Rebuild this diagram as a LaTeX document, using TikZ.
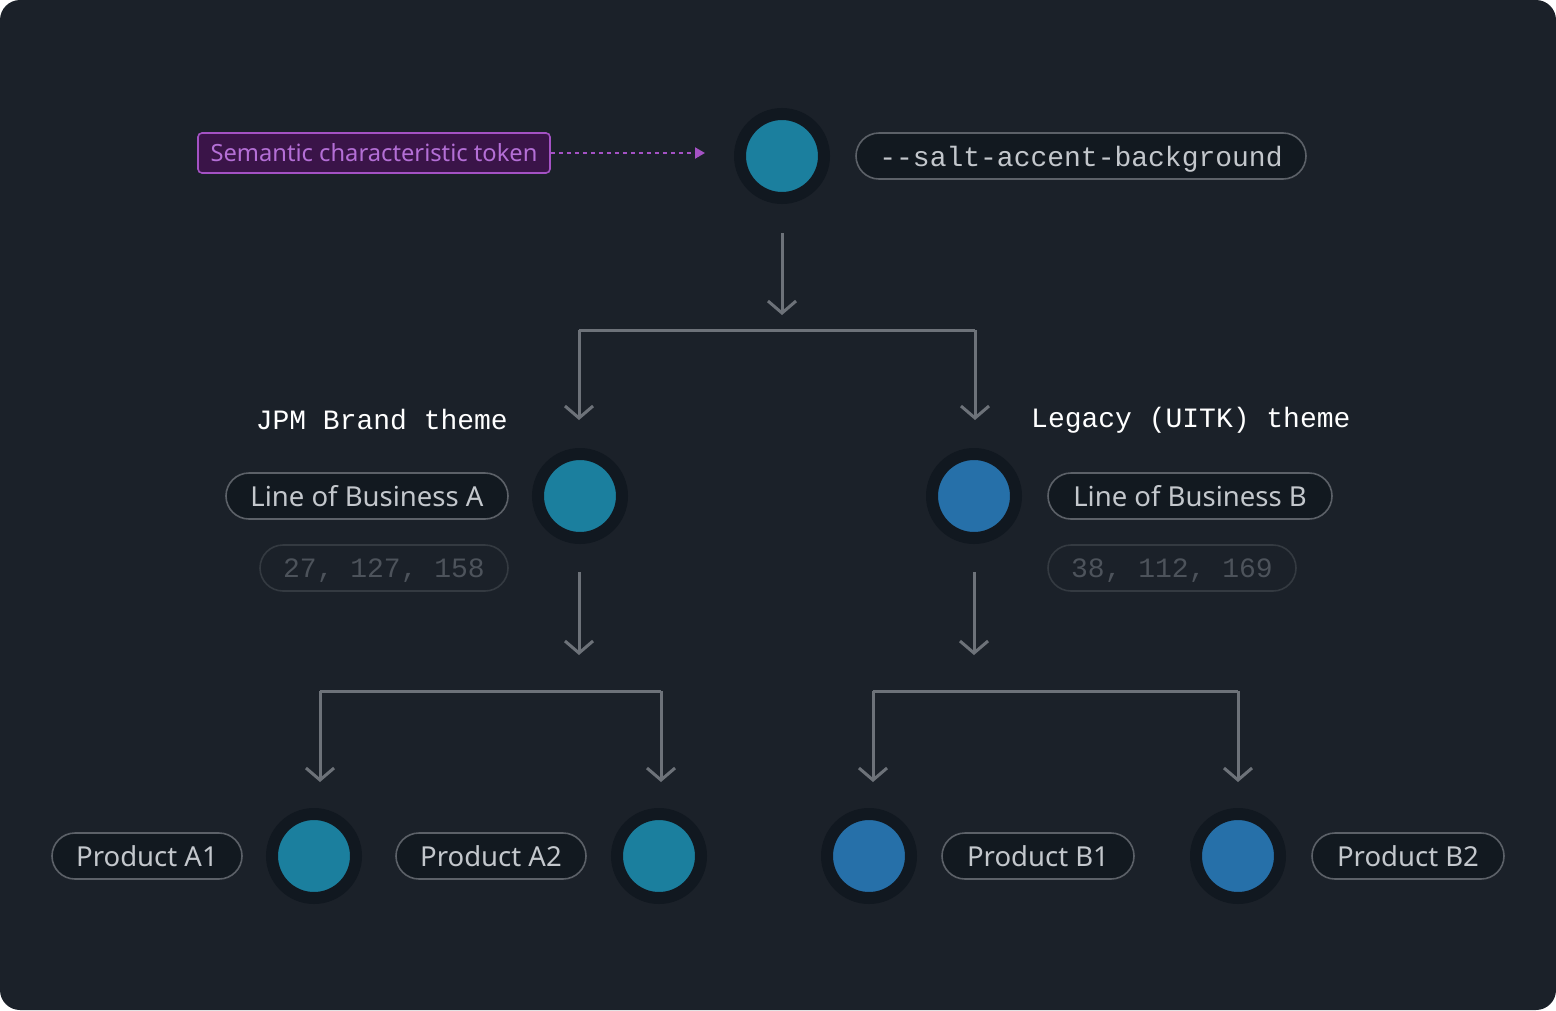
\documentclass[tikz,border=0pt]{standalone}
\usepackage{fontspec}
\setmainfont{Noto Sans}
\setmonofont{Liberation Mono}
\usetikzlibrary{arrows.meta}

\definecolor{panelbg}{HTML}{1B2129}
\definecolor{ringdark}{HTML}{111820}
\definecolor{tealfill}{HTML}{1B7F9E}
\definecolor{bluefill}{HTML}{2670A9}
\definecolor{pillfill}{HTML}{121920}
\definecolor{pillline}{HTML}{5C6168}
\definecolor{dimline}{HTML}{343A41}
\definecolor{dimtext}{HTML}{4D535B}
\definecolor{labeltext}{HTML}{C3C7CC}
\definecolor{flowline}{HTML}{6D7279}
\definecolor{tokfill}{HTML}{3A1448}
\definecolor{tokline}{HTML}{A452C4}
\definecolor{toktext}{HTML}{B46FD6}

\newcommand{\lowtext}[1]{\raisebox{-3pt}[\height][\depth]{#1}}

\begin{document}
\begin{tikzpicture}[
        x=1pt, y=-1pt,
        swatch/.style={circle, draw=ringdark, line width=12pt, minimum size=84pt, inner sep=0pt},
        tealn/.style={swatch, fill=tealfill},
        bluen/.style={swatch, fill=bluefill},
        pill/.style={rectangle, rounded corners=23pt, draw=pillline, fill=pillfill, line width=1.6pt,
            minimum height=46pt, inner xsep=0pt, text=labeltext, font=\fontsize{27.5}{30}\selectfont},
        rgbpill/.style={pill, draw=dimline, fill=panelbg, text=dimtext,
            font=\ttfamily\fontsize{28}{30}\selectfont},
        codepill/.style={pill, text=labeltext, font=\ttfamily\fontsize{28}{30}\selectfont},
        heading/.style={text=white, font=\ttfamily\fontsize{28}{30}\selectfont, inner sep=0pt},
        flow/.style={draw=flowline, line width=3pt, -{Straight Barb[length=12pt,width=28pt,line width=3pt]}},
        branch/.style={draw=flowline, line width=3pt},
    ]
    % panel
    \fill[white] (0,0) rectangle (1556,1010);
    \fill[panelbg, rounded corners=20pt] (0,0) rectangle (1556,1010);

    % top token
    \node[tealn](top) at (782,156){};
    \node[codepill, minimum width=450pt](salt) at (1081,156){\lowtext{-{}-salt-accent-background}};
    \node[draw=tokline, fill=tokfill, text=toktext, line width=1.6pt, rounded corners=4pt,
        minimum width=352pt, minimum height=40pt, inner sep=0pt,
        font=\fontsize{23.7}{26}\selectfont](sem) at (374,153){Semantic characteristic token};
    \coordinate (semend) at (705,153);
    \draw[tokline, line width=2pt, dash pattern=on 4pt off 4pt, -{Triangle[length=10pt,width=11pt]}]
        (sem.east) -- (semend);

    % first split
    \coordinate (topa) at (782,233);
    \coordinate (topb) at (782,315);
    \coordinate (spl) at (579,330);
    \coordinate (spr) at (975,330);
    \coordinate (spla) at (579,420);
    \coordinate (spra) at (975,420);
    \draw[flow] (topa) -- (topb);
    \draw[branch] (spl) -- (spr);
    \draw[flow] (spl) -- (spla);
    \draw[flow] (spr) -- (spra);

    % themes
    \node[heading, anchor=east](jpm) at (508,420){JPM Brand theme};
    \node[heading, anchor=west](legacy) at (1031,420){Legacy (UITK) theme};

    \node[tealn](lobA) at (580,496){};
    \node[bluen](lobB) at (974,496){};
    \node[pill, minimum width=282pt](lobAl) at (367,496){Line of Business A};
    \node[pill, minimum width=284pt](lobBl) at (1190,496){Line of Business B};
    \node[rgbpill, minimum width=248pt](rgbA) at (384,568){\lowtext{27, 127, 158}};
    \node[rgbpill, minimum width=248pt](rgbB) at (1172,568){\lowtext{38, 112, 169}};

    % second splits
    \coordinate (aa) at (579,572);
    \coordinate (ab) at (579,655);
    \coordinate (ba) at (974,572);
    \coordinate (bb) at (974,655);
    \draw[flow] (aa) -- (ab);
    \draw[flow] (ba) -- (bb);

    \coordinate (al) at (320,691);
    \coordinate (ar) at (661,691);
    \coordinate (bl) at (873,691);
    \coordinate (br) at (1238,691);
    \draw[branch] (al) -- (ar);
    \draw[branch] (bl) -- (br);
    \draw[flow] (al) -- ++(0,91);
    \draw[flow] (ar) -- ++(0,91);
    \draw[flow] (bl) -- ++(0,91);
    \draw[flow] (br) -- ++(0,91);

    % products
    \node[tealn](pA1) at (314,856){};
    \node[tealn](pA2) at (659,856){};
    \node[bluen](pB1) at (869,856){};
    \node[bluen](pB2) at (1238,856){};
    \node[pill, minimum width=190pt](pA1l) at (147,856){Product A1};
    \node[pill, minimum width=190pt](pA2l) at (491,856){Product A2};
    \node[pill, minimum width=192pt](pB1l) at (1038,856){Product B1};
    \node[pill, minimum width=192pt](pB2l) at (1408,856){Product B2};
\end{tikzpicture}
\end{document}
